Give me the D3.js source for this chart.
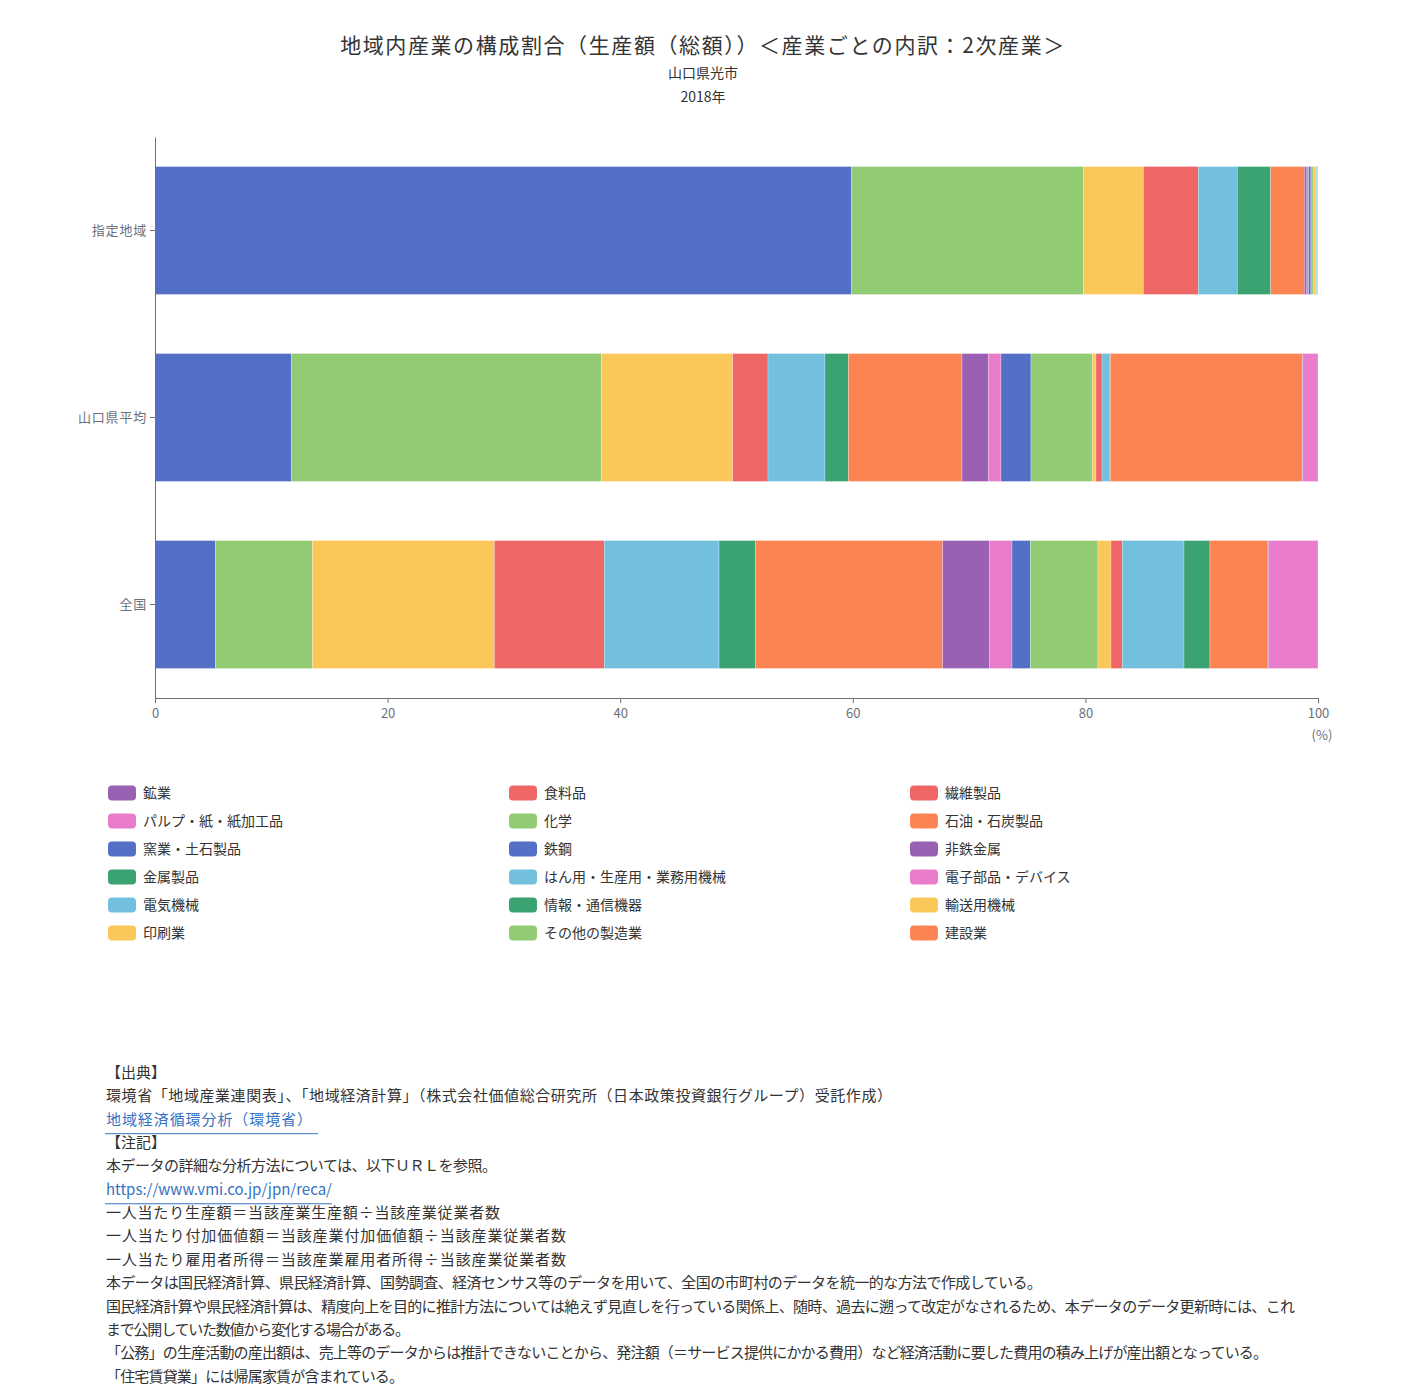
<!DOCTYPE html>
<html>
<head>
<meta charset="utf-8">
<script src="https://cdn.jsdelivr.net/npm/d3@7"></script>
<style>
  body { margin: 0; background: #fff; font-family: "Noto Sans CJK JP", "Noto Sans", sans-serif; }
  #chart { width: 1407px; height: 1395px; }
</style>
</head>
<body>
<div id="chart"></div>
<script>
// categories (top to bottom)
const regions = ['指定地域', '山口県平均', '全国'];

// series in stacking order
const seriesNames = [
    '鉄鋼', '化学', '輸送用機械', '食料品', 'はん用・生産用・業務用機械', '金属製品',
    '建設業', '非鉄金属', 'パルプ・紙・紙加工品', '窯業・土石製品', 'その他の製造業', '印刷業',
    '繊維製品', '電気機械', '情報・通信機器', '石油・石炭製品', '鉱業', '電子部品・デバイス'
];

// shares (%) per region, same order as seriesNames
const shiteiValues   = [59.87, 19.95, 5.16, 4.73, 3.35, 2.87, 2.89, 0.22, 0.15, 0.20, 0.20, 0.20, 0.05, 0.05, 0.03, 0.02, 0.01, 0.05];
const yamaguchiValues = [11.72, 26.66, 11.29, 3.04, 4.90, 2.01, 9.77, 2.26, 1.09, 2.58, 5.27, 0.32, 0.52, 0.69, 0.02, 16.50, 0.06, 1.30];
const zenkokuValues  = [5.19, 8.34, 15.65, 9.45, 9.87, 3.12, 16.10, 4.05, 1.92, 1.57, 5.82, 1.12, 0.97, 5.31, 2.23, 4.93, 0.12, 4.24];

// legend order (row by row)
const legendNames = [
    '鉱業', '食料品', '繊維製品',
    'パルプ・紙・紙加工品', '化学', '石油・石炭製品',
    '窯業・土石製品', '鉄鋼', '非鉄金属',
    '金属製品', 'はん用・生産用・業務用機械', '電子部品・デバイス',
    '電気機械', '情報・通信機器', '輸送用機械',
    '印刷業', 'その他の製造業', '建設業'
];

const xTicks = [0, 20, 40, 60, 80, 100];

const palette = ['#5470c6', '#91cc75', '#fac858', '#ee6666', '#73c0de', '#3ba272', '#fc8452', '#9a60b4', '#ea7ccc'];

const titleText = '地域内産業の構成割合（生産額（総額））＜産業ごとの内訳：2次産業＞';
const subTexts = ['山口県光市', '2018年'];

const notes = [
    '【出典】',
    '環境省「地域産業連関表」、「地域経済計算」（株式会社価値総合研究所（日本政策投資銀行グループ）受託作成）',
    '地域経済循環分析（環境省）',
    '【注記】',
    '本データの詳細な分析方法については、以下ＵＲＬを参照。',
    'https://www.vmi.co.jp/jpn/reca/',
    '一人当たり生産額＝当該産業生産額÷当該産業従業者数',
    '一人当たり付加価値額＝当該産業付加価値額÷当該産業従業者数',
    '一人当たり雇用者所得＝当該産業雇用者所得÷当該産業従業者数',
    '本データは国民経済計算、県民経済計算、国勢調査、経済センサス等のデータを用いて、全国の市町村のデータを統一的な方法で作成している。',
    '国民経済計算や県民経済計算は、精度向上を目的に推計方法については絶えず見直しを行っている関係上、随時、過去に遡って改定がなされるため、本データのデータ更新時には、これ',
    'まで公開していた数値から変化する場合がある。',
    '「公務」の生産活動の産出額は、売上等のデータからは推計できないことから、発注額（＝サービス提供にかかる費用）など経済活動に要した費用の積み上げが産出額となっている。',
    '「住宅賃貸業」には帰属家賃が含まれている。'
];
const linkLines = [2, 5];

// layout: rendered width of each note line, underline end for links
const noteWidths = [null, 786, 206, null, 391, 226, 394, 460, 460, 936, 1189, 304, 1162, 298];
const underlineEnd = {2: 318, 5: 332};

// build rows for d3.stack
const valuesByRegion = [shiteiValues, yamaguchiValues, zenkokuValues];
const rows = regions.map((r, i) => {
    const row = {region: r};
    seriesNames.forEach((s, j) => { row[s] = valuesByRegion[i][j]; });
    return row;
});
const color = d3.scaleOrdinal().domain(seriesNames).range(seriesNames.map((s, i) => palette[i % palette.length]));

const width = 1407, height = 1395;
const margin = {top: 137, left: 155, right: 89, bottom: 697};

const svg = d3.select('#chart').append('svg')
    .attr('width', width)
    .attr('height', height)
    .style('font-family', '"Noto Sans CJK JP", "Noto Sans", sans-serif');

// titles
svg.append('text')
    .attr('x', 703).attr('y', 53)
    .attr('text-anchor', 'middle')
    .attr('font-size', 21)
    .attr('letter-spacing', 1.6)
    .attr('fill', '#333')
    .text(titleText);
subTexts.forEach((t, i) => {
    svg.append('text')
        .attr('x', 703).attr('y', 78 + i * 24)
        .attr('text-anchor', 'middle')
        .attr('font-size', 14)
        .attr('fill', '#333')
        .text(t);
});

const x = d3.scaleLinear().domain([0, 100]).range([margin.left, width - margin.right]);
const y = d3.scaleBand().domain(regions).range([margin.top, 698]).paddingInner(0.316).paddingOuter(0.158);

const stacked = d3.stack().keys(seriesNames)(rows);

// bars
svg.append('g')
    .selectAll('g')
    .data(stacked)
    .enter().append('g')
        .attr('fill', d => color(d.key))
    .selectAll('rect')
    .data(d => d)
    .enter().append('rect')
        .attr('x', d => x(d[0]))
        .attr('y', d => y(d.data.region))
        .attr('width', d => Math.max(0, x(d[1]) - x(d[0])))
        .attr('height', y.bandwidth())
        .attr('stroke', '#fff')
        .attr('stroke-opacity', 0.5)
        .attr('stroke-width', 0.5);

// x axis
const xAxis = svg.append('g')
    .attr('transform', 'translate(0,698)')
    .call(d3.axisBottom(x).tickValues(xTicks).tickSize(5).tickPadding(6));
xAxis.select('.domain').attr('stroke', '#6e7079');
xAxis.selectAll('.tick line').attr('stroke', '#6e7079');
xAxis.selectAll('text').attr('fill', '#6e7079').attr('font-size', 13)
    .style('font-family', '"Noto Sans CJK JP", sans-serif');

svg.append('text')
    .attr('x', 1322).attr('y', 740)
    .attr('text-anchor', 'middle')
    .attr('font-size', 13)
    .attr('fill', '#6e7079')
    .text('(%)');

// y axis
const yAxis = svg.append('g')
    .attr('transform', 'translate(' + margin.left + ',0)')
    .call(d3.axisLeft(y).tickSize(5).tickPadding(3).tickSizeOuter(0));
yAxis.select('.domain').attr('stroke', '#6e7079');
yAxis.selectAll('.tick line').attr('stroke', '#6e7079');
yAxis.selectAll('text').attr('fill', '#6e7079').attr('font-size', 13)
    .attr('letter-spacing', 0.8)
    .style('font-family', '"Noto Sans CJK JP", sans-serif');

// legend
const legend = svg.append('g')
    .selectAll('g')
    .data(legendNames)
    .enter().append('g')
        .attr('transform', (d, i) => 'translate(' + (108 + (i % 3) * 401) + ',' + (793 + Math.floor(i / 3) * 28) + ')');
legend.append('rect')
    .attr('x', 0).attr('y', -7.5)
    .attr('width', 28).attr('height', 15)
    .attr('rx', 4)
    .attr('fill', d => color(d));
legend.append('text')
    .attr('x', 35).attr('y', 5)
    .attr('font-size', 14)
    .attr('fill', '#333')
    .text(d => d);

// notes
const noteG = svg.append('g');
notes.forEach((t, i) => {
    const yy = 1078 + i * 23.35;
    const isLink = linkLines.includes(i);
    const txt = noteG.append('text')
        .attr('x', 106).attr('y', yy)
        .attr('font-size', 15)
        .attr('fill', isLink ? '#3672c4' : '#333')
        .text(t);
    if (noteWidths[i]) {
        txt.attr('textLength', noteWidths[i]).attr('lengthAdjust', 'spacing');
    }
    if (isLink) {
        noteG.append('line')
            .attr('x1', 105).attr('x2', underlineEnd[i])
            .attr('y1', yy + 9).attr('y2', yy + 9)
            .attr('stroke', '#3672c4')
            .attr('stroke-width', 1);
    }
});
</script>
</body>
</html>
